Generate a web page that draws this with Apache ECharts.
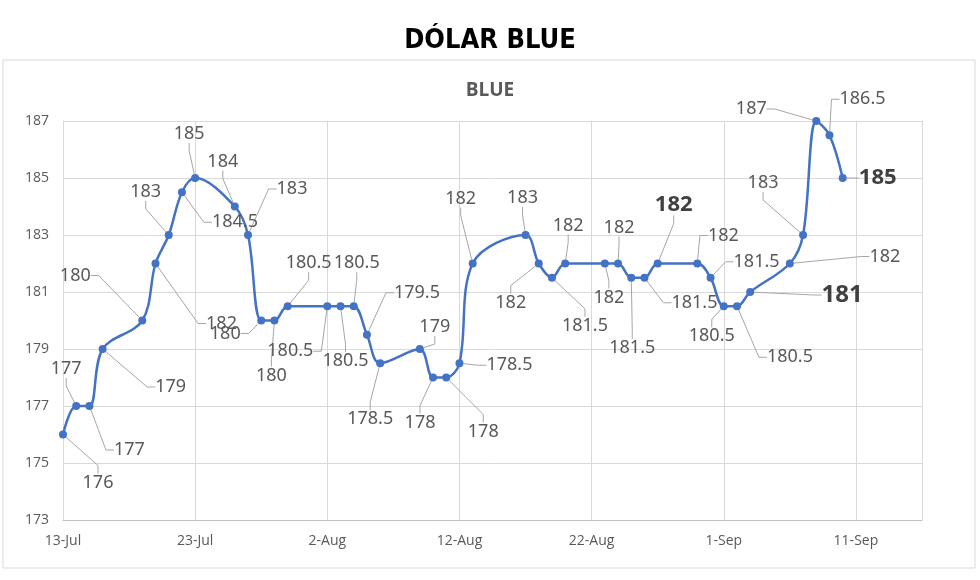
<!DOCTYPE html>
<html>
<head>
<meta charset="utf-8">
<script src="https://cdn.jsdelivr.net/npm/echarts@6/dist/echarts.min.js"></script>
<style>
html,body{margin:0;padding:0;background:#fff;}
#chart{width:980px;height:580px;}
</style>
</head>
<body>
<div id="chart"></div>
<script>
// ---- data ----
const dates = [
  '2021-07-13','2021-07-14','2021-07-15','2021-07-16','2021-07-19','2021-07-20','2021-07-21','2021-07-22','2021-07-23',
  '2021-07-26','2021-07-27','2021-07-28','2021-07-29','2021-07-30',
  '2021-08-02','2021-08-03','2021-08-04','2021-08-05','2021-08-06',
  '2021-08-09','2021-08-10','2021-08-11','2021-08-12','2021-08-13',
  '2021-08-17','2021-08-18','2021-08-19','2021-08-20',
  '2021-08-23','2021-08-24','2021-08-25','2021-08-26','2021-08-27',
  '2021-08-30','2021-08-31','2021-09-01','2021-09-02','2021-09-03',
  '2021-09-06','2021-09-07','2021-09-08','2021-09-09','2021-09-10'
];
const blue = [
  176,177,177,179,180,182,183,184.5,185,
  184,183,180,180,180.5,
  180.5,180.5,180.5,179.5,178.5,
  179,178,178,178.5,182,
  183,182,181.5,182,
  182,182,181.5,181.5,182,
  182,181.5,180.5,180.5,181,
  182,183,187,186.5,185
];
const yTicks = {min: 173, max: 187, step: 2};
const xStart = '2021-07-13';
const xEndDays = 65;
const boldIdx = [32, 37, 42];

// ---- label placement (presentation only: offset of label centre from its point, px) ----
const labelOffsets = [
  [35,48],[-10,-37],[40,44],[68,38],[-67,-45],[66,60],[-23,-43],[53,30],[-6,-44],
  [-12,-45],[44,-46],[-36,13],[-3,55],[21,-43],
  [-37,45],[5,55],[3,-43],[50,-42],[-10,56],
  [15,-22],[-13,45],[37,54],[50,2],[-12,-65],
  [-3,-37],[-28,39],[33,48],[3,-38],
  [4,34],[1,-36],[1,70],[50,25],[16,-59],
  [26,-28],[46,-16],[-12,30],[53,51],[92,3],
  [95,-7],[-40,-52],[-65,-12],[33,-36],[35,0]
];

const MONTHS = ['Jan','Feb','Mar','Apr','May','Jun','Jul','Aug','Sep','Oct','Nov','Dec'];
const DAY = 86400000;
const t0 = Date.parse(xStart + 'T00:00:00Z');
function dayOf(s){ return Math.round((Date.parse(s + 'T00:00:00Z') - t0) / DAY); }
function fmtDay(v){ const d = new Date(t0 + v * DAY); return d.getUTCDate() + '-' + MONTHS[d.getUTCMonth()]; }

const seriesData = dates.map((d, i) => {
  const bold = boldIdx.indexOf(i) >= 0;
  const item = { value: [dayOf(d), blue[i]] };
  if (bold) {
    item.label = { fontWeight: 'bold', fontSize: i === 37 ? 24 : 22, color: '#404040' };
  }
  return item;
});

const chart = echarts.init(document.getElementById('chart'), null, {renderer: 'canvas'});
chart.setOption({
  animation: false,
  backgroundColor: '#ffffff',
  title: [
    { text: 'DÓLAR BLUE', left: 'center', top: 22,
      textStyle: { fontFamily: 'DejaVu Sans Condensed', fontWeight: 'bold', fontSize: 27, color: '#000' } },
    { text: 'BLUE', left: 'center', top: 76,
      textStyle: { fontFamily: 'Open Sans', fontWeight: 'bold', fontSize: 19, color: '#595959' } }
  ],
  graphic: [
    { type: 'rect', z: -10, shape: { x: 3, y: 60, width: 972, height: 508 },
      style: { fill: 'none', stroke: '#d9d9d9', lineWidth: 1 } }
  ],
  grid: { left: 63, right: 58, top: 121, bottom: 60, containLabel: false },
  xAxis: {
    type: 'value', min: 0, max: xEndDays, interval: 10,
    axisLine: { show: true, lineStyle: { color: '#bfbfbf', width: 1 } },
    axisTick: { show: false },
    splitLine: { show: true, lineStyle: { color: '#d9d9d9', width: 1 } },
    axisLabel: { formatter: fmtDay, color: '#595959', fontSize: 14, fontFamily: 'Open Sans', margin: 14,
      showMaxLabel: false }
  },
  yAxis: {
    type: 'value', min: yTicks.min, max: yTicks.max, interval: yTicks.step,
    axisLine: { show: true, lineStyle: { color: '#d9d9d9' } },
    axisTick: { show: false },
    splitLine: { show: true, lineStyle: { color: '#d9d9d9', width: 1 } },
    axisLabel: { color: '#595959', fontSize: 14, fontFamily: 'Open Sans', margin: 14 }
  },
  series: [{
    type: 'line',
    data: seriesData,
    smooth: 0.35,
    symbol: 'circle',
    symbolSize: 8,
    lineStyle: { color: '#4472C4', width: 2.5 },
    itemStyle: { color: '#4472C4' },
    label: {
      show: true, position: 'inside',
      color: '#595959', fontSize: 18, fontFamily: 'Noto Sans',
      formatter: p => String(p.value[1])
    },
    labelLine: { show: true, length2: 8, lineStyle: { color: '#a6a6a6', width: 1 } },
    labelLayout: function (params) {
      const o = labelOffsets[params.dataIndex];
      return { dx: o[0], dy: o[1], hideOverlap: false };
    }
  }]
});
</script>
</body>
</html>
